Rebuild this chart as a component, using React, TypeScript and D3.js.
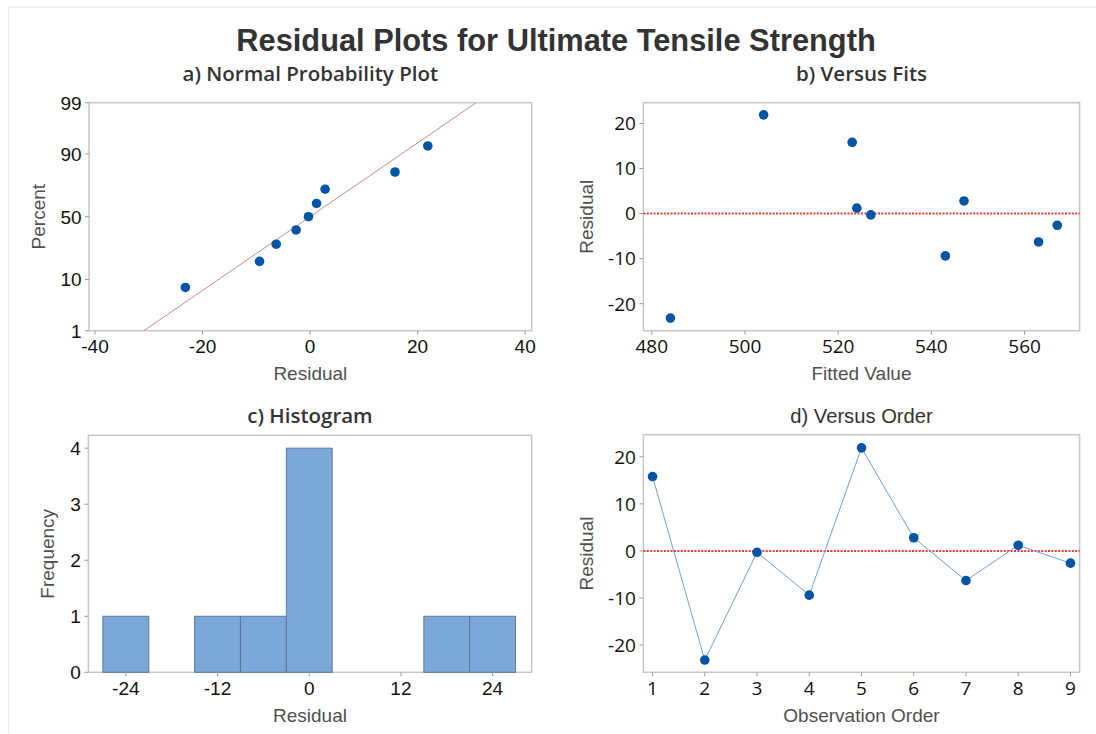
import React from 'react';
import * as d3 from 'd3';

// residuals in observation order, with the matching fitted values
const observationOrder = [1, 2, 3, 4, 5, 6, 7, 8, 9];
const residuals = [15.8, -23.2, -0.3, -9.4, 21.9, 2.8, -6.3, 1.2, -2.6];
const fittedValues = [523, 484, 527, 543, 504, 547, 563, 524, 567];

const percentTicks = [1, 10, 50, 90, 99];
const probResidualTicks = [-40, -20, 0, 20, 40];
const fitsTicks = [480, 500, 520, 540, 560];
const residualTicks = [-20, -10, 0, 10, 20];
const histTicks = [-24, -12, 0, 12, 24];
const freqTicks = [0, 1, 2, 3, 4];
const histEdges = [-27, -21, -15, -9, -3, 3, 9, 15, 21, 27];

const BLUE = '#0054a6';
const FRAME = '#c6c6c6';
const TICK = '#9a9a9a';
const ARIAL = '"Liberation Sans", Arial, sans-serif';
const SEGOE = '"Open Sans", "Noto Sans", sans-serif';

// inverse normal cdf (Acklam)
function qnorm(p: number) {
  const a = [-39.69683028665376, 220.9460984245205, -275.9285104469687, 138.357751867269, -30.66479806614716, 2.506628277459239];
  const b = [-54.47609879822406, 161.5858368580409, -155.6989798598866, 66.80131188771972, -13.28068155288572];
  const c = [-0.007784894002430293, -0.3223964580411365, -2.400758277161838, -2.549732539343734, 4.374664141464968, 2.938163982698783];
  const d = [0.007784695709041462, 0.3224671290700398, 2.445134137142996, 3.754408661907416];
  const pl = 0.02425;
  if (p < pl) {
    const q = Math.sqrt(-2 * Math.log(p));
    return (((((c[0] * q + c[1]) * q + c[2]) * q + c[3]) * q + c[4]) * q + c[5]) / ((((d[0] * q + d[1]) * q + d[2]) * q + d[3]) * q + 1);
  }
  if (p > 1 - pl) {
    const q = Math.sqrt(-2 * Math.log(1 - p));
    return -(((((c[0] * q + c[1]) * q + c[2]) * q + c[3]) * q + c[4]) * q + c[5]) / ((((d[0] * q + d[1]) * q + d[2]) * q + d[3]) * q + 1);
  }
  const q = p - 0.5;
  const r = q * q;
  return (((((a[0] * r + a[1]) * r + a[2]) * r + a[3]) * r + a[4]) * r + a[5]) * q / (((((b[0] * r + b[1]) * r + b[2]) * r + b[3]) * r + b[4]) * r + 1);
}

type Box = { x0: number; x1: number; y0: number; y1: number };

const Frame = ({ b }: { b: Box }) => (
  <rect x={b.x0} y={b.y0} width={b.x1 - b.x0} height={b.y1 - b.y0} fill="none" stroke={FRAME} strokeWidth={1.5} />
);

function XTicks({ b, ticks, scale, font, size }: any) {
  return (
    <g>
      {ticks.map((t: number) => (
        <g key={t}>
          <line x1={scale(t)} x2={scale(t)} y1={b.y1} y2={b.y1 + 4} stroke={TICK} />
          <text x={scale(t)} y={b.y1 + 22.5} textAnchor="middle" fontFamily={font} fontSize={size} fill="#111">{t}</text>
        </g>
      ))}
    </g>
  );
}

function YTicks({ b, ticks, scale, font, size }: any) {
  return (
    <g>
      {ticks.map((t: number) => (
        <g key={t}>
          <line x1={b.x0 - 4} x2={b.x0} y1={scale(t)} y2={scale(t)} stroke={TICK} />
          <text x={b.x0 - 7.5} y={scale(t)} dy="0.36em" textAnchor="end" fontFamily={font} fontSize={size} fill="#111">{t}</text>
        </g>
      ))}
    </g>
  );
}

const AxisTitles = ({ b, xTitle, yTitle, yOff }: { b: Box; xTitle: string; yTitle: string; yOff: number }) => (
  <g fontFamily={ARIAL} fontSize={19} fill="#505050">
    <text x={(b.x0 + b.x1) / 2} y={b.y1 + 49.5} textAnchor="middle">{xTitle}</text>
    <text transform={`translate(${b.x0 - yOff},${(b.y0 + b.y1) / 2}) rotate(-90)`} textAnchor="middle">{yTitle}</text>
  </g>
);

const RefLine = ({ b, y }: { b: Box; y: number }) => (
  <line x1={b.x0} x2={b.x1} y1={y} y2={y} stroke="#ec3b36" strokeWidth={2} strokeDasharray="2,1.4" />
);

export default function App() {
  // a) normal probability plot
  const bA: Box = { x0: 89.1, x1: 531.6, y0: 102.7, y1: 330.7 };
  const xA = d3.scaleLinear().domain([-41.1, 41.2]).range([bA.x0, bA.x1]);
  const yA = d3.scaleLinear().domain([qnorm(0.01), qnorm(0.99)]).range([bA.y1, bA.y0]);
  const n = residuals.length;
  const sorted = residuals.slice().sort(d3.ascending);
  const probPts = sorted.map((r, i) => ({ r, z: qnorm((i + 1 - 0.3) / (n + 0.4)) }));
  const mean = d3.mean(residuals) as number;
  const sd = d3.deviation(residuals) as number;
  const zLo = qnorm(0.01), zHi = qnorm(0.99);
  const fitLine = d3.line<number>().x((z) => xA(mean + sd * z)).y((z) => yA(z))([zLo, zHi]);

  // b) versus fits
  const bB: Box = { x0: 643.4, x1: 1079.6, y0: 102.7, y1: 330.7 };
  const xB = d3.scaleLinear().domain([478.2, 571.8]).range([bB.x0, bB.x1]);
  const yB = d3.scaleLinear().domain([-26, 24.6]).range([bB.y1, bB.y0]);

  // c) histogram
  const bC: Box = { x0: 88.4, x1: 531.6, y0: 435.3, y1: 672.3 };
  const xC = d3.scaleLinear().domain([-28.9, 29.1]).range([bC.x0, bC.x1]);
  const yC = d3.scaleLinear().domain([0, 4.23]).range([bC.y1, bC.y0]);
  const bins = d3.bin().domain([histEdges[0], histEdges[histEdges.length - 1]]).thresholds(histEdges.slice(1, -1))(residuals);

  // d) versus order
  const bD: Box = { x0: 643.4, x1: 1079.6, y0: 434.7, y1: 672.3 };
  const xD = d3.scaleLinear().domain([0.825, 9.175]).range([bD.x0, bD.x1]);
  const yD = d3.scaleLinear().domain([-25.8, 24.7]).range([bD.y1, bD.y0]);
  const orderLine = d3.line<number>().x((_, i) => xD(observationOrder[i])).y((r) => yD(r))(residuals);

  return (
    <svg width={1096} height={734} style={{ position: 'absolute', left: 0, top: 0, background: '#fff' }}>
      <line x1={8.7} x2={1096} y1={7} y2={7} stroke="#e4e4e4" />
      <line x1={8.7} x2={8.7} y1={7} y2={734} stroke="#e4e4e4" />

      <text x={556} y={51} textAnchor="middle" fontFamily={ARIAL} fontWeight="bold" fontSize={30.8} fill="#333">
        Residual Plots for Ultimate Tensile Strength
      </text>

      {/* a) */}
      <text x={(bA.x0 + bA.x1) / 2} y={81} textAnchor="middle" fontFamily={SEGOE} fontWeight={600} fontSize={20.5} fill="#333">a) Normal Probability Plot</text>
      <Frame b={bA} />
      <YTicks b={bA} ticks={percentTicks} scale={(p: number) => yA(qnorm(p / 100))} font={ARIAL} size={19} />
      <XTicks b={bA} ticks={probResidualTicks} scale={xA} font={ARIAL} size={19} />
      <path d={fitLine as string} fill="none" stroke="#d38585" strokeWidth={1} />
      {probPts.map((d, i) => (
        <circle key={i} cx={xA(d.r)} cy={yA(d.z)} r={4.8} fill={BLUE} />
      ))}
      <AxisTitles b={bA} xTitle="Residual" yTitle="Percent" yOff={44.4} />

      {/* b) */}
      <text x={(bB.x0 + bB.x1) / 2} y={81} textAnchor="middle" fontFamily={SEGOE} fontWeight={600} fontSize={20.5} fill="#333">b) Versus Fits</text>
      <Frame b={bB} />
      <YTicks b={bB} ticks={residualTicks} scale={yB} font={SEGOE} size={19} />
      <XTicks b={bB} ticks={fitsTicks} scale={xB} font={SEGOE} size={19} />
      <RefLine b={bB} y={yB(0)} />
      {residuals.map((r, i) => (
        <circle key={i} cx={xB(fittedValues[i])} cy={yB(r)} r={4.8} fill={BLUE} />
      ))}
      <AxisTitles b={bB} xTitle="Fitted Value" yTitle="Residual" yOff={50.7} />

      {/* c) */}
      <text x={(bC.x0 + bC.x1) / 2} y={423} textAnchor="middle" fontFamily={SEGOE} fontWeight={600} fontSize={20.5} fill="#333">c) Histogram</text>
      <Frame b={bC} />
      {bins.filter((bn) => bn.length > 0).map((bn, i) => (
        <rect key={i} x={xC(bn.x0 as number)} y={yC(bn.length)} width={xC(bn.x1 as number) - xC(bn.x0 as number)} height={yC(0) - yC(bn.length)} fill="#7ba7d9" stroke="#5d7893" strokeWidth={1} />
      ))}
      <YTicks b={bC} ticks={freqTicks} scale={yC} font={ARIAL} size={19} />
      <XTicks b={bC} ticks={histTicks} scale={xC} font={ARIAL} size={19} />
      <AxisTitles b={bC} xTitle="Residual" yTitle="Frequency" yOff={34.2} />

      {/* d) */}
      <text x={(bD.x0 + bD.x1) / 2} y={423} textAnchor="middle" fontFamily={ARIAL} fontSize={20.2} fill="#333">d) Versus Order</text>
      <Frame b={bD} />
      <YTicks b={bD} ticks={residualTicks} scale={yD} font={SEGOE} size={19} />
      <XTicks b={bD} ticks={observationOrder} scale={xD} font={SEGOE} size={19} />
      <RefLine b={bD} y={yD(0)} />
      <path d={orderLine as string} fill="none" stroke="#6f9fd6" strokeWidth={1} />
      {residuals.map((r, i) => (
        <circle key={i} cx={xD(observationOrder[i])} cy={yD(r)} r={4.8} fill={BLUE} />
      ))}
      <AxisTitles b={bD} xTitle="Observation Order" yTitle="Residual" yOff={50.7} />
    </svg>
  );
}
